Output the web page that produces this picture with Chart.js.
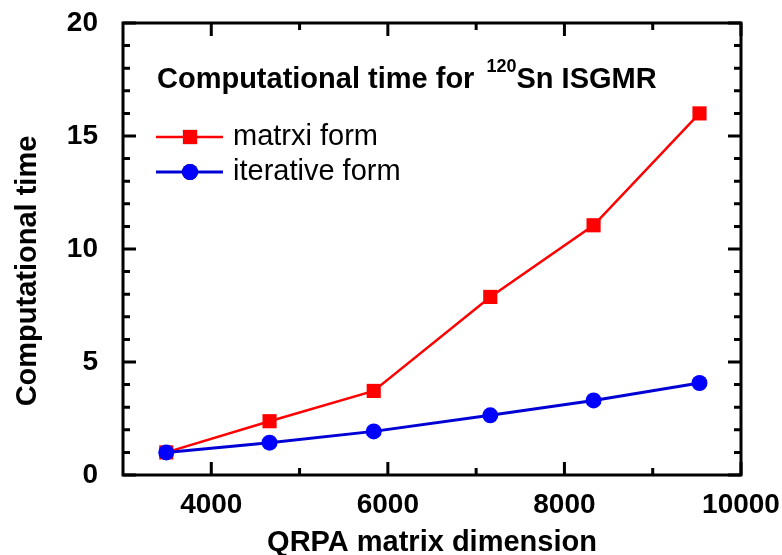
<!DOCTYPE html>
<html>
<head>
<meta charset="utf-8">
<title>Computational time for 120Sn ISGMR</title>
<script src="https://cdn.jsdelivr.net/npm/chart.js@4.4.1/dist/chart.umd.min.js"></script>
<style>
  html, body { margin: 0; padding: 0; background: #fff; }
  canvas { display: block; }
</style>
</head>
<body>
<canvas id="timeChart" width="782" height="555"></canvas>
<script>
// QRPA matrix dimensions and timings
const dimensions = [3490, 4660, 5840, 7160, 8330, 9530];
const matrixTimes = [1.0, 2.38, 3.72, 7.88, 11.05, 16.0];
const iterativeTimes = [1.0, 1.43, 1.93, 2.64, 3.3, 4.07];

// axis ticks
const xMajorTicks = [4000, 6000, 8000, 10000];
const xMinorTicks = [5000, 7000, 9000];
const yMajorTicks = [0, 5, 10, 15, 20];
const yMinorTicks = [1, 2, 3, 4, 6, 7, 8, 9, 11, 12, 13, 14, 16, 17, 18, 19];

const FONT = "'Liberation Sans', Arial, sans-serif";
const RED = '#ff0000';
const BLUE = '#0000ff';
const BLUE_LINE = '#0000d4';

const toPoints = (ys) => dimensions.map((x, i) => ({ x: x, y: ys[i] }));

// keep the plot box fixed: no extra room for overhanging end labels
const noOverhang = (scale) => {
  scale.paddingTop = 0;
  scale.paddingBottom = 0;
  scale.paddingLeft = 0;
  scale.paddingRight = 0;
};

// frame, inward ticks, axis titles, in-plot title and legend
const framePlugin = {
  id: 'frame',
  afterDraw(chart) {
    const ctx = chart.ctx;
    const area = chart.chartArea;
    const xs = chart.scales.x;
    const ys = chart.scales.y;
    ctx.save();
    ctx.strokeStyle = '#000';
    ctx.lineWidth = 3;
    ctx.lineCap = 'butt';

    const tickX = (v, len) => {
      const px = xs.getPixelForValue(v);
      ctx.beginPath();
      ctx.moveTo(px, area.bottom);
      ctx.lineTo(px, area.bottom - len);
      ctx.moveTo(px, area.top);
      ctx.lineTo(px, area.top + len);
      ctx.stroke();
    };
    const tickY = (v, len) => {
      const py = ys.getPixelForValue(v);
      ctx.beginPath();
      ctx.moveTo(area.left, py);
      ctx.lineTo(area.left + len, py);
      ctx.moveTo(area.right, py);
      ctx.lineTo(area.right - len, py);
      ctx.stroke();
    };
    xMajorTicks.forEach(v => tickX(v, 13));
    xMinorTicks.forEach(v => tickX(v, 7));
    yMajorTicks.forEach(v => tickY(v, 13));
    yMinorTicks.forEach(v => tickY(v, 7));

    ctx.strokeRect(area.left, area.top, area.right - area.left, area.bottom - area.top);

    // axis titles
    ctx.fillStyle = '#000';
    ctx.font = 'bold 29px ' + FONT;
    ctx.textAlign = 'center';
    ctx.textBaseline = 'alphabetic';
    ctx.fillText('QRPA matrix dimension', (area.left + area.right) / 2, 551);
    ctx.save();
    ctx.translate(36, 271);
    ctx.rotate(-Math.PI / 2);
    ctx.fillText('Computational time', 0, 0);
    ctx.restore();

    // title inside the plot, with the mass number as superscript
    ctx.textAlign = 'left';
    let tx = 157;
    ctx.font = 'bold 29px ' + FONT;
    ctx.fillText('Computational time for ', tx, 88);
    tx += ctx.measureText('Computational time for ').width + 4;
    ctx.font = 'bold 18px ' + FONT;
    ctx.fillText('120', tx, 72);
    tx += ctx.measureText('120').width;
    ctx.font = 'bold 29px ' + FONT;
    ctx.fillText('Sn ISGMR', tx, 88);

    // legend
    const entries = chart.data.datasets;
    const rows = [137, 172];
    entries.forEach((ds, i) => {
      const y = rows[i];
      ctx.strokeStyle = ds.borderColor;
      ctx.lineWidth = ds.borderWidth;
      ctx.beginPath();
      ctx.moveTo(156, y);
      ctx.lineTo(223, y);
      ctx.stroke();
      Chart.helpers.drawPoint(ctx, {
        pointStyle: ds.pointStyle,
        radius: ds.pointRadius,
        rotation: 0,
        borderWidth: 0
      }, 190, y);
      ctx.fillStyle = ds.pointBackgroundColor;
      ctx.fill();
      ctx.fillStyle = '#000';
      ctx.font = '29px ' + FONT;
      ctx.textBaseline = 'middle';
      ctx.fillText(ds.label, 233, y);
      ctx.textBaseline = 'alphabetic';
    });
    ctx.restore();
  }
};

new Chart(document.getElementById('timeChart'), {
  type: 'line',
  data: {
    datasets: [
      {
        label: 'matrxi form',
        data: toPoints(matrixTimes),
        borderColor: RED,
        borderWidth: 2.5,
        pointStyle: 'rect',
        pointRadius: 10,
        pointBackgroundColor: RED,
        pointBorderWidth: 0,
        order: 1
      },
      {
        label: 'iterative form',
        data: toPoints(iterativeTimes),
        borderColor: BLUE_LINE,
        borderWidth: 3,
        pointStyle: 'circle',
        pointRadius: 8,
        pointBackgroundColor: BLUE,
        pointBorderWidth: 0,
        order: 0
      }
    ]
  },
  options: {
    responsive: false,
    animation: false,
    devicePixelRatio: 1,
    layout: { padding: { top: 23, right: 41, left: 0, bottom: 0 } },
    plugins: {
      legend: { display: false },
      tooltip: { enabled: false }
    },
    scales: {
      x: {
        type: 'linear',
        min: 3000,
        max: 10000,
        grid: { display: false, drawTicks: false },
        border: { display: false },
        afterBuildTicks: (scale) => { scale.ticks = xMajorTicks.map(v => ({ value: v })); },
        afterFit: (scale) => { scale.height = 80; noOverhang(scale); },
        ticks: {
          padding: 13,
          maxRotation: 0,
          color: '#000',
          font: { family: FONT, size: 28, weight: 'bold' },
          callback: (v) => String(v)
        }
      },
      y: {
        min: 0,
        max: 20,
        grid: { display: false, drawTicks: false },
        border: { display: false },
        afterBuildTicks: (scale) => { scale.ticks = yMajorTicks.map(v => ({ value: v })); },
        afterFit: (scale) => { scale.width = 123; noOverhang(scale); },
        ticks: {
          padding: 25,
          color: '#000',
          font: { family: FONT, size: 28, weight: 'bold' },
          callback: (v) => String(v)
        }
      }
    }
  },
  plugins: [framePlugin]
});
</script>
</body>
</html>
